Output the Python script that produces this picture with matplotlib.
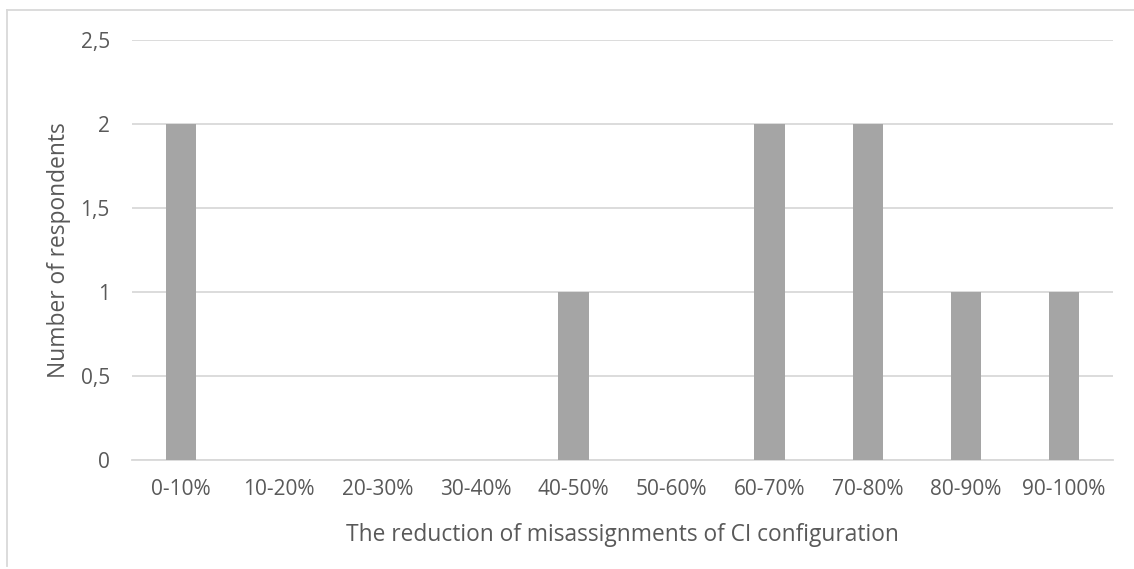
import matplotlib
matplotlib.use("Agg")
import matplotlib.pyplot as plt
from matplotlib.lines import Line2D

categories = ["0-10%", "10-20%", "20-30%", "30-40%", "40-50%",
              "50-60%", "60-70%", "70-80%", "80-90%", "90-100%"]
respondents = [2, 0, 0, 0, 1, 0, 2, 2, 1, 1]
y_ticks = [0, 0.5, 1, 1.5, 2, 2.5]
y_tick_labels = ["0", "0,5", "1", "1,5", "2", "2,5"]

plt.rcParams["font.family"] = ["Open Sans", "DejaVu Sans"]
text_color = "#595959"
grid_color = "#D9D9D9"

W, H = 1134, 569
fig = plt.figure(figsize=(W / 100, H / 100), dpi=100)
ax = fig.add_axes([132 / W, (H - 460) / H, (1113 - 132) / W, (460 - 40) / H])

x = list(range(len(categories)))
ax.bar(x, respondents, width=0.31, color="#A5A5A5", zorder=3)

ax.set_xlim(-0.5, len(categories) - 0.5)
ax.set_ylim(0, 2.5)
ax.set_yticks(y_ticks)
ax.set_yticklabels(y_tick_labels)
ax.set_xticks(x)
ax.set_xticklabels(categories)

ax.yaxis.grid(True, color=grid_color, linewidth=1.3, zorder=0)
ax.set_axisbelow(True)
for side in ["top", "right", "left"]:
    ax.spines[side].set_visible(False)
ax.spines["bottom"].set_color(grid_color)
ax.spines["bottom"].set_linewidth(1.3)
ax.tick_params(axis="both", length=0, labelsize=15, colors=text_color)
ax.tick_params(axis="y", pad=16)
ax.tick_params(axis="x", pad=14)

ax.set_xlabel("The reduction of misassignments of CI configuration",
              fontsize=16.4, color=text_color, labelpad=16)
ax.set_ylabel("Number of respondents", fontsize=16.4, color=text_color, labelpad=7)

# chart frame
fig.add_artist(Line2D([7 / W, 1.0], [1 - 10 / H, 1 - 10 / H],
                      transform=fig.transFigure, color=grid_color, linewidth=1.3))
fig.add_artist(Line2D([7 / W, 7 / W], [1 - 10 / H, 1 - 566 / H],
                      transform=fig.transFigure, color=grid_color, linewidth=1.3))

fig.savefig("out.png", dpi=100, facecolor="white")
